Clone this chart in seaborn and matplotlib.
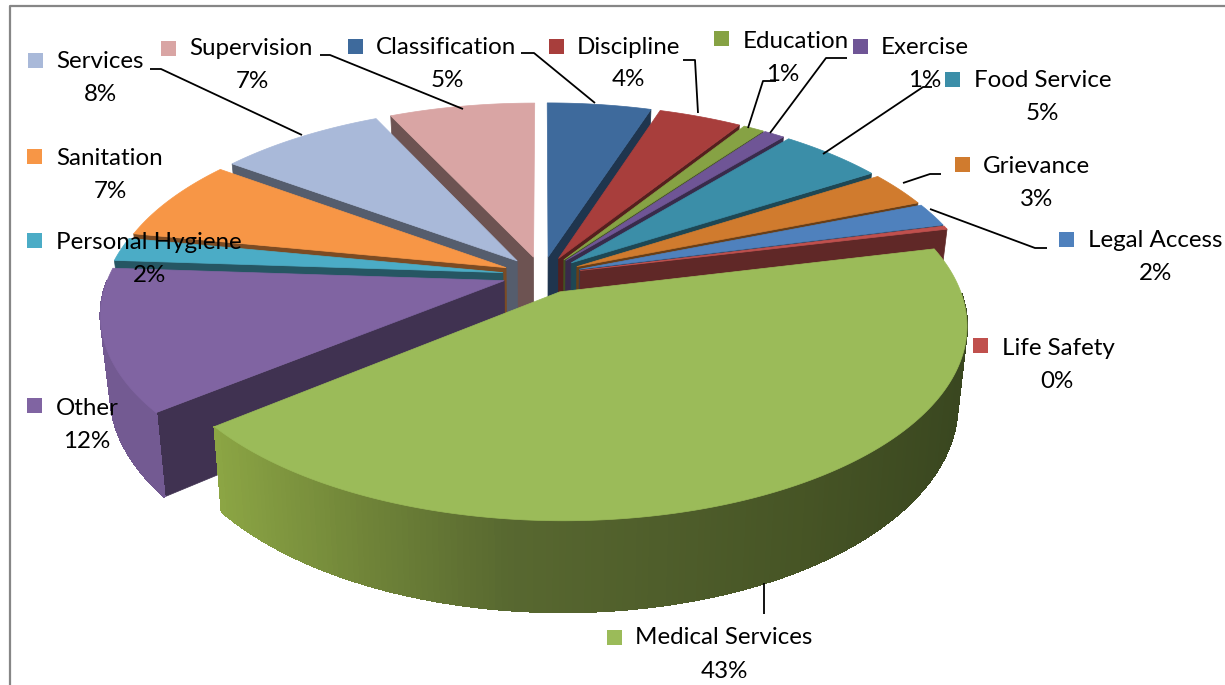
"""Exploded 3D-look pie of grievance categories, built on ax.pie angles."""
import numpy as np
import matplotlib
matplotlib.use("Agg")
import matplotlib.pyplot as plt
from matplotlib.patches import Polygon, Rectangle
import seaborn as sns

categories = ["Classification", "Discipline", "Education", "Exercise", "Food Service",
              "Grievance", "Legal Access", "Life Safety", "Medical Services", "Other",
              "Personal Hygiene", "Sanitation", "Services", "Supervision"]
values = [5, 4, 1, 1, 5, 3, 2, 0.3, 43, 12, 2, 7, 8, 7]
colors = ["#3e6a9c", "#a83e3c", "#86a244", "#6f5596", "#3b8ea8", "#d07b2e", "#4f81bd",
          "#c0504d", "#9bbb59", "#8064a2", "#4bacc6", "#f79646", "#a9b9d9", "#d9a5a4"]

# layout, in pixels of the 1225x685 picture
key_xy = [(348, 39), (549, 39), (714, 31), (853, 39), (945, 72), (955, 157), (1059, 232),
          (973, 338), (607, 630), (27, 398), (27, 233), (27, 149), (28, 53), (161, 41)]
name_xy = [(376, 47), (577, 47), (743, 41), (881, 47), (974, 80), (983, 166), (1088, 240),
           (1002, 348), (635, 638), (56, 408), (56, 242), (56, 158), (56, 61), (189, 48)]
pct_xy = [(447, 80), (628, 79), (783, 74), (925, 80), (1042, 113), (1037, 199), (1155, 273),
          (1057, 381), (724, 671), (87, 441), (149, 275), (110, 191), (100, 94), (252, 81)]
leaders = [[(521, 53), (534, 53), (595, 103)],
           [(683, 60), (695, 60), (698, 113)],
           [(776, 81), (763, 81), (748, 128)],
           [(770, 133), (826, 58), (847, 58)],
           [(823, 154), (923, 87), (932, 87)],
           [(903, 183), (930, 174), (941, 174)],
           [(930, 209), (1035, 248), (1047, 248)],
           [(764, 583), (764, 614)],
           [(150, 69), (161, 69), (302, 135)],
           [(320, 55), (330, 55), (463, 109)]]

CX, CY, FX, FY, PERSP = 542, 275, 395, 185, 0.165
DEPTH = 75
TAPER = 0.022
EXPLODE = 0.1


def project(x, y):
    s = 1.0 / (1.0 + PERSP * y)
    return CX + FX * x * s, CY - FY * y * s, DEPTH * s


def lower(x, y, d):
    # bottom edge of a wall leans slightly towards the middle
    return x + (CX - x) * TAPER, y + d


def shade(color, f):
    return tuple(np.array(matplotlib.colors.to_rgb(color)) * f)


sns.set_theme(style="white")
plt.rcParams["font.family"] = ["Lato", "DejaVu Sans"]

fig, ax = plt.subplots(figsize=(12.25, 6.85), dpi=100)
fig.subplots_adjust(0, 0, 1, 1)

wedges, _ = ax.pie(values, colors=colors, startangle=90, counterclock=False,
                   explode=[EXPLODE] * len(values))
geometry = [(w.center, w.r, w.theta1, w.theta2) for w in wedges]
for w in wedges:
    w.remove()
ax.set_aspect("auto")
ax.set_xlim(0, 1225)
ax.set_ylim(685, 0)
ax.set_axis_off()

medical_wall = sns.blend_palette(["#8ea845", "#718639", "#586830", "#4f5e2b", "#465425", "#3a4720"], 256)

# back slices first so the front ones paint over them
order = sorted(range(len(values)),
               key=lambda i: -np.sin(np.radians((geometry[i][2] + geometry[i][3]) / 2)))
for z, i in enumerate(order):
    (c0, c1), r, t1, t2 = geometry[i]
    ang = np.radians(np.linspace(t1, t2, 200))
    px, py, pd = project(c0 + r * np.cos(ang), c1 + r * np.sin(ang))
    ax0, ay0, ad0 = project(c0, c1)
    wall = shade(colors[i], 0.5)

    # flat cut faces that look towards the viewer
    for t, normal in ((t1, t1 - 90), (t2, t2 + 90)):
        if np.sin(np.radians(normal)) < 0:
            ex, ey, ed = project(c0 + r * np.cos(np.radians(t)), c1 + r * np.sin(np.radians(t)))
            ax.add_patch(Polygon([(ax0, ay0), (ex, ey), lower(ex, ey, ed), lower(ax0, ay0, ad0)],
                                 facecolor=wall, edgecolor=wall, lw=0.5, zorder=z * 3 + 1))

    # outer rim, front half only
    front = np.where(np.sin(ang) < 0)[0]
    for a, b in zip(front[:-1], front[1:]):
        if categories[i] == "Medical Services":
            col = medical_wall[int(np.clip((px[a] - 200) / 760, 0, 1) * 255)]
        else:
            col = shade(colors[i], 0.9)
        ax.add_patch(Polygon([(px[a], py[a]), (px[b], py[b]),
                              lower(px[b], py[b], pd[b]), lower(px[a], py[a], pd[a])],
                             facecolor=col, edgecolor=col, lw=0.8, antialiased=False,
                             zorder=z * 3 + 2))

    top = [(ax0, ay0)] + list(zip(px, py))
    ax.add_patch(Polygon(top, facecolor=colors[i], edgecolor=colors[i], lw=0.5, zorder=z * 3 + 3))

top_z = len(values) * 3 + 5
for path in leaders:
    xs, ys = zip(*path)
    ax.plot(xs, ys, color="black", lw=1.3, zorder=top_z, solid_capstyle="butt")

for i, name in enumerate(categories):
    ax.add_patch(Rectangle(key_xy[i], 15, 15, facecolor=colors[i], edgecolor="none", zorder=top_z))
    ax.text(*name_xy[i], name, fontsize=17.4, color="black", ha="left", va="center", zorder=top_z + 1)
    ax.text(*pct_xy[i], f"{round(values[i])}%", fontsize=17.4, color="black",
            ha="center", va="center", zorder=top_z + 1)

# frame of the original chart area
ax.plot([10, 10, 1225], [685, 6, 6], color="#868686", lw=1.6, zorder=top_z)

fig.savefig("out.png", dpi=100)
plt.close(fig)
